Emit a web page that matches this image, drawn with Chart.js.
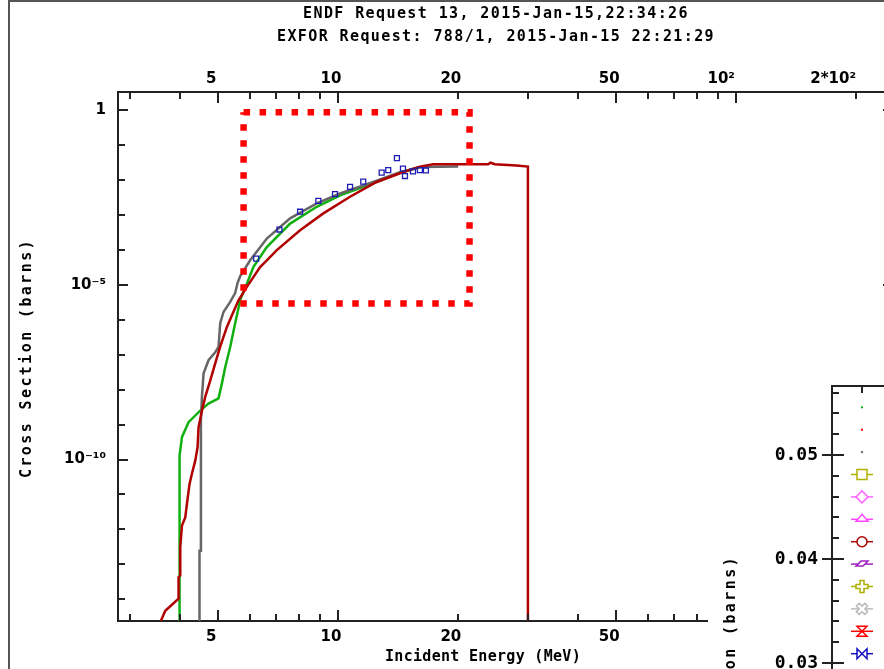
<!DOCTYPE html>
<html>
<head>
<meta charset="utf-8">
<script src="https://cdn.jsdelivr.net/npm/chart.js@4.4.1/dist/chart.umd.min.js"></script>
<style>
  html, body { margin: 0; padding: 0; background: #fff; overflow: hidden; }
  #wrap { position: relative; width: 884px; height: 669px; overflow: hidden; background: #fff; }
  #main { position: absolute; left: 0; top: 0; }
  #inset { position: absolute; left: 708px; top: 376px; background: #fff; }
</style>
</head>
<body>
<div id="wrap">
  <canvas id="main" width="900" height="669"></canvas>
  <canvas id="inset" width="220" height="400"></canvas>
</div>
<script>
// titles
const titleLines = ['ENDF Request 13, 2015-Jan-15,22:34:26', 'EXFOR Request: 788/1, 2015-Jan-15 22:21:29'];
const xTitle = 'Incident Energy (MeV)';
const yTitle = 'Cross Section (barns)';

// evaluated curves (energy in MeV, cross section in barns)
const greenE  = [3.998, 3.998, 4.054, 4.211, 4.506, 4.727, 5.009, 5.108, 5.206, 5.359, 5.515, 5.678, 5.845, 5.902, 6.131, 6.623, 7.58, 8.842, 10.12, 12.26, 14.31, 16.06, 17.0];
const greenXS = [1e-16, 1.29e-10, 4.37e-10, 1.17e-9, 2.51e-9, 3.98e-9, 5.62e-9, 1.51e-8, 4.37e-8, 1.66e-7, 7.94e-7, 3.63e-6, 8.71e-6, 1.07e-5, 3.24e-5, 1.2e-4, 5.62e-4, 1.7e-3, 3.63e-3, 7.94e-3, 1.6e-2, 2.3e-2, 2.36e-2];

const grayE  = [4.487, 4.487, 4.524, 4.524, 4.55, 4.593, 4.727, 4.914, 5.009, 5.058, 5.155, 5.359, 5.515, 5.589, 5.678, 6.015, 6.623, 7.58, 8.842, 10.12, 12.26, 14.31, 16.06, 20.04];
const grayXS = [1e-16, 2.45e-13, 2.45e-13, 1.32e-9, 6.17e-9, 2.88e-8, 6.92e-8, 1.17e-7, 1.66e-7, 7.94e-7, 1.66e-6, 3.24e-6, 5.75e-6, 1.1e-5, 1.78e-5, 5.01e-5, 2.09e-4, 7.94e-4, 2.14e-3, 4.07e-3, 8.71e-3, 1.66e-2, 2.34e-2, 2.4e-2];

const redE  = [3.575, 3.681, 3.975, 3.975, 4.014, 4.014, 4.054, 4.132, 4.173, 4.236, 4.296, 4.378, 4.436, 4.462, 4.55, 4.638, 4.774, 4.914, 5.058, 5.258, 5.461, 5.623, 5.902, 6.372, 6.623, 7.019, 8.029, 9.185, 10.72, 12.5, 14.31, 16.06, 17.34, 21.03, 23.83, 24.16, 24.77, 28.07, 30.0, 30.0];
const redXS = [2.2e-15, 4.7e-15, 1.05e-14, 4.3e-14, 4.8e-14, 3.1e-13, 1.3e-12, 2.2e-12, 5.5e-12, 2.0e-11, 4.0e-11, 9.3e-11, 2.2e-10, 8.3e-10, 2.5e-9, 6.2e-9, 1.8e-8, 5.6e-8, 1.7e-7, 6.2e-7, 1.7e-6, 3.6e-6, 8.7e-6, 3.2e-5, 5.0e-5, 9.8e-5, 3.6e-4, 1.1e-3, 3.3e-3, 8.7e-3, 1.55e-2, 2.4e-2, 2.8e-2, 2.8e-2, 2.8e-2, 3.1e-2, 2.8e-2, 2.6e-2, 2.4e-2, 1e-16];

// EXFOR points
const exforE  = [6.228, 7.125, 8.029, 8.925, 9.828, 10.72, 11.57, 12.87, 13.37, 14.06, 14.56, 14.73, 15.43, 16.06, 16.63];
const exforXS = [5.6e-5, 3.8e-4, 1.23e-3, 2.5e-3, 3.9e-3, 6.3e-3, 8.9e-3, 1.62e-2, 1.9e-2, 4.2e-2, 2.1e-2, 1.29e-2, 1.74e-2, 1.9e-2, 1.86e-2];

// dotted zoom box
const boxE  = [5.79, 21.4, 21.4, 5.79, 5.79];
const boxXS = [0.86, 0.86, 2.9e-6, 2.9e-6, 0.86];

// ticks
const xTickValues = [3, 4, 5, 6, 7, 8, 9, 10, 20, 30, 40, 50, 60, 70, 80, 90, 100, 200];
const xMajorValues = [5, 10, 50, 100];
const xLabelValues = [5, 10, 20, 50, 100, 200];
const xLabelTexts = ['5', '10', '20', '50', '10\u00b2   ', '2*10\u00b2      '];
const yTickValues = [1e-14, 1e-13, 1e-12, 1e-11, 1e-10, 1e-9, 1e-8, 1e-7, 1e-6, 1e-5, 1e-4, 1e-3, 1e-2, 1e-1, 1];
const yMajorValues = [1e-10, 1e-5, 1];
const yLabelValues = [1, 1e-5, 1e-10];
const yLabelTexts = ['1', '10\u207b\u2075', '10\u207b\u00b9\u2070'];

// inset panel
const insetTickValues = [0.02, 0.022, 0.024, 0.026, 0.028, 0.03, 0.032, 0.034, 0.036, 0.038, 0.04, 0.042, 0.044, 0.046, 0.048, 0.05, 0.052, 0.054, 0.056];
const insetMajorValues = [0.03, 0.04, 0.05];
const insetLabelTexts = ['0.03', '0.04', '0.05'];
const legendColors = ['#10b010', '#ff0000', '#666666', '#b0b000', '#ff66ff', '#ff44ff', '#b00000', '#a020c0', '#b0b000', '#bbbbbb', '#ff0000', '#1010c0'];
const legendShapes = ['dot', 'dot', 'dot', 'square', 'diamond', 'triangle', 'circle', 'zig', 'plus', 'xcross', 'hourglass', 'bowtie'];

const pairs = (xs, ys) => xs.map((x, i) => ({ x: x, y: ys[i] }));
function lookupLabel(v, vals, texts) {
  for (let i = 0; i < vals.length; i++) {
    if (Math.abs(v - vals[i]) <= Math.abs(vals[i]) * 1e-6) return texts[i];
  }
  return '';
}

const tickFont = { family: 'DejaVu Sans', size: 15, weight: 'bold' };

const mainDecor = {
  id: 'mainDecor',
  afterDraw(chart) {
    const ctx = chart.ctx, a = chart.chartArea;
    const xs = chart.scales.x, ys = chart.scales.y;
    ctx.save();
    ctx.strokeStyle = '#222';
    ctx.lineWidth = 2;
    ctx.beginPath();
    xTickValues.forEach(v => {
      const p = Math.round(xs.getPixelForValue(v));
      const len = xMajorValues.includes(v) ? 11 : 7;
      ctx.moveTo(p, a.top); ctx.lineTo(p, a.top + len);
      ctx.moveTo(p, a.bottom); ctx.lineTo(p, a.bottom - len);
    });
    yTickValues.forEach(v => {
      const p = Math.round(ys.getPixelForValue(v));
      const len = yMajorValues.includes(v) ? 10 : 7;
      ctx.moveTo(a.left, p); ctx.lineTo(a.left + len, p);
      ctx.moveTo(a.right, p); ctx.lineTo(a.right - len, p);
    });
    ctx.stroke();

    // outer frame
    ctx.strokeStyle = '#555';
    ctx.beginPath();
    ctx.moveTo(9, chart.height); ctx.lineTo(9, 1); ctx.lineTo(chart.width, 1);
    ctx.stroke();

    ctx.fillStyle = '#000';
    ctx.textAlign = 'center';
    ctx.textBaseline = 'middle';
    ctx.font = 'bold 15px "DejaVu Sans Mono"';
    ctx.letterSpacing = '1.4px';
    ctx.fillText(titleLines[0], 496, 14);
    ctx.fillText(titleLines[1], 496, 37);

    ctx.letterSpacing = '0.3px';
    ctx.fillText(xTitle, 483, 657);

    ctx.letterSpacing = '2.4px';
    ctx.translate(27, 358);
    ctx.rotate(-Math.PI / 2);
    ctx.fillText(yTitle, 0, 0);
    ctx.restore();
  }
};

const xAxisCommon = {
  type: 'logarithmic',
  min: 2.8,
  max: 248,
  afterBuildTicks: s => { s.ticks = xTickValues.map(v => ({ value: v })); },
  grid: { display: false, drawTicks: false },
  border: { display: true, color: '#222', width: 2 },
};

new Chart(document.getElementById('main'), {
  type: 'line',
  data: {
    datasets: [
      { label: 'zoom', data: pairs(boxE, boxXS), borderColor: '#ff0000', borderWidth: 6.5, borderDash: [6.5, 9.5], borderCapStyle: 'butt', pointRadius: 0, fill: false },
      { label: 'EXFOR', data: pairs(exforE, exforXS), showLine: false, pointStyle: 'rect', pointRadius: 3.5, borderColor: '#1c1cb4', borderWidth: 1.3, backgroundColor: 'rgba(0,0,0,0)' },
      { label: 'red', data: pairs(redE, redXS), borderColor: '#b00000', borderWidth: 2.5, pointRadius: 0, fill: false },
      { label: 'gray', data: pairs(grayE, grayXS), borderColor: '#666666', borderWidth: 2.5, pointRadius: 0, fill: false },
      { label: 'green', data: pairs(greenE, greenXS), borderColor: '#10b010', borderWidth: 2.5, pointRadius: 0, fill: false }
    ]
  },
  options: {
    responsive: false,
    animation: false,
    devicePixelRatio: 1,
    events: [],
    layout: { padding: { left: 0, right: 7, top: 0, bottom: 0 } },
    plugins: { legend: { display: false }, tooltip: { enabled: false } },
    scales: {
      x: Object.assign({}, xAxisCommon, {
        position: 'bottom',
        afterFit: s => { s.height = 48; s.paddingLeft = 0; s.paddingRight = 0; },
        ticks: { autoSkip: false, maxRotation: 0, minRotation: 0, padding: 7, labelOffset: -7, font: tickFont, color: '#000',
                 callback: v => lookupLabel(v, xLabelValues, xLabelTexts) }
      }),
      x2: Object.assign({}, xAxisCommon, {
        position: 'top',
        afterFit: s => { s.height = 92; s.paddingLeft = 0; s.paddingRight = 0; },
        ticks: { autoSkip: false, maxRotation: 0, minRotation: 0, padding: 4, labelOffset: -7, font: tickFont, color: '#000',
                 callback: v => lookupLabel(v, xLabelValues, xLabelTexts) }
      }),
      y: {
        type: 'logarithmic',
        position: 'left',
        min: 2.4e-15,
        max: 3.27,
        afterFit: s => { s.width = 118; s.paddingTop = 0; s.paddingBottom = 0; },
        afterBuildTicks: s => { s.ticks = yTickValues.map(v => ({ value: v })); },
        grid: { display: false, drawTicks: false },
        border: { display: true, color: '#222', width: 2 },
        ticks: { autoSkip: false, padding: 12, font: tickFont, color: '#000',
                 callback: v => lookupLabel(v, yLabelValues, yLabelTexts) }
      }
    }
  },
  plugins: [mainDecor]
});

// inset panel
function drawGlyph(ctx, shape, x, y, color) {
  ctx.strokeStyle = color;
  ctx.fillStyle = color;
  ctx.lineWidth = 1.5;
  if (shape === 'dot') { ctx.fillRect(x - 1, y - 1, 2, 2); return; }
  ctx.beginPath(); ctx.moveTo(x - 11, y); ctx.lineTo(x + 11, y); ctx.stroke();
  ctx.fillStyle = '#fff';
  ctx.beginPath();
  const r = 5;
  if (shape === 'square') { ctx.rect(x - r, y - r, 2 * r, 2 * r); }
  else if (shape === 'diamond') { ctx.moveTo(x, y - 6); ctx.lineTo(x + 6, y); ctx.lineTo(x, y + 6); ctx.lineTo(x - 6, y); ctx.closePath(); }
  else if (shape === 'triangle') { ctx.moveTo(x, y - 5); ctx.lineTo(x + 6, y + 2); ctx.lineTo(x - 6, y + 2); ctx.closePath(); }
  else if (shape === 'circle') { ctx.arc(x, y, r, 0, Math.PI * 2); }
  else if (shape === 'zig') { ctx.moveTo(x - 6, y + 2); ctx.lineTo(x - 1, y - 3); ctx.lineTo(x + 6, y - 3); ctx.lineTo(x + 1, y + 2); ctx.closePath(); }
  else if (shape === 'plus' || shape === 'xcross') {
    const w = 2, l = 6;
    const pts = [[-w, -l], [w, -l], [w, -w], [l, -w], [l, w], [w, w], [w, l], [-w, l], [-w, w], [-l, w], [-l, -w], [-w, -w]];
    const ang = shape === 'xcross' ? Math.PI / 4 : 0;
    pts.forEach((p, i) => {
      const px = x + p[0] * Math.cos(ang) - p[1] * Math.sin(ang);
      const py = y + p[0] * Math.sin(ang) + p[1] * Math.cos(ang);
      if (i === 0) ctx.moveTo(px, py); else ctx.lineTo(px, py);
    });
    ctx.closePath();
  }
  else if (shape === 'hourglass') { ctx.moveTo(x - r, y - r); ctx.lineTo(x + r, y - r); ctx.lineTo(x - r, y + r); ctx.lineTo(x + r, y + r); ctx.closePath(); }
  else if (shape === 'bowtie') { ctx.moveTo(x - r, y - r); ctx.lineTo(x - r, y + r); ctx.lineTo(x + r, y - r); ctx.lineTo(x + r, y + r); ctx.closePath(); }
  ctx.fill();
  ctx.stroke();
}

const insetDecor = {
  id: 'insetDecor',
  afterDraw(chart) {
    const ctx = chart.ctx, a = chart.chartArea, ys = chart.scales.y;
    ctx.save();
    ctx.strokeStyle = '#222';
    ctx.lineWidth = 2;
    ctx.beginPath();
    ctx.moveTo(a.left - 1, a.top); ctx.lineTo(a.right, a.top);
    ctx.moveTo(154, a.top); ctx.lineTo(154, a.top + 7);
    insetTickValues.forEach(v => {
      const p = Math.round(ys.getPixelForValue(v));
      if (insetMajorValues.some(m => Math.abs(m - v) < 1e-9)) { ctx.moveTo(a.left - 10, p); ctx.lineTo(a.left + 12, p); }
      else { ctx.moveTo(a.left, p); ctx.lineTo(a.left + 7, p); }
    });
    ctx.stroke();

    legendShapes.forEach((s, i) => drawGlyph(ctx, s, 154, 31.3 + 22.4 * i, legendColors[i]));

    ctx.fillStyle = '#000';
    ctx.textAlign = 'center';
    ctx.textBaseline = 'middle';
    ctx.font = 'bold 15px "DejaVu Sans Mono"';
    ctx.letterSpacing = '2.4px';
    ctx.translate(23, 299);
    ctx.rotate(-Math.PI / 2);
    ctx.fillText(yTitle, 0, 0);
    ctx.restore();
  }
};

new Chart(document.getElementById('inset'), {
  type: 'scatter',
  data: { datasets: [] },
  options: {
    responsive: false,
    animation: false,
    devicePixelRatio: 1,
    events: [],
    layout: { padding: { left: 0, right: 0, top: 10, bottom: 0 } },
    plugins: { legend: { display: false }, tooltip: { enabled: false } },
    scales: {
      x: { type: 'linear', display: false, min: 0, max: 1 },
      y: {
        type: 'linear',
        position: 'left',
        min: 0.019135,
        max: 0.056635,
        afterFit: s => { s.width = 124; s.paddingTop = 0; s.paddingBottom = 0; },
        afterBuildTicks: s => { s.ticks = insetTickValues.map(v => ({ value: v })); },
        grid: { display: false, drawTicks: false },
        border: { display: true, color: '#222', width: 2 },
        ticks: { autoSkip: false, padding: 14, color: '#000', font: { family: 'DejaVu Sans Mono', size: 18, weight: 'bold' },
                 callback: v => lookupLabel(v, insetMajorValues, insetLabelTexts) }
      }
    }
  },
  plugins: [insetDecor]
});
</script>
</body>
</html>
